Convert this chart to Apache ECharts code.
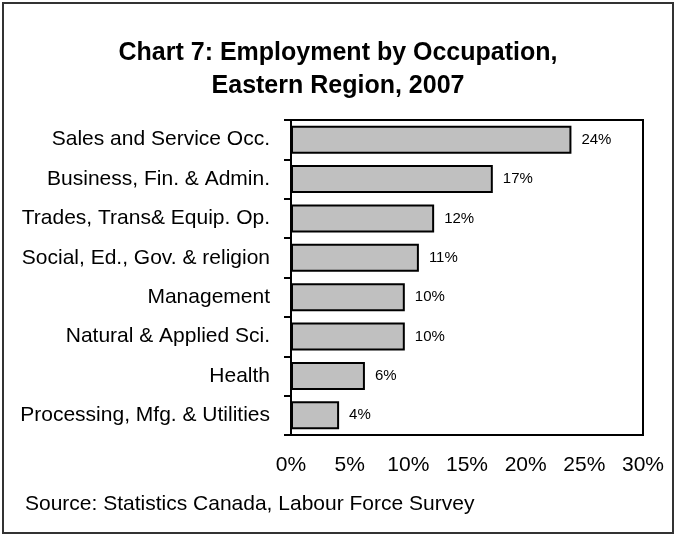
<!DOCTYPE html>
<html>
<head>
<meta charset="utf-8">
<script src="https://cdn.jsdelivr.net/npm/echarts@6/dist/echarts.min.js"></script>
<style>
    html, body { margin: 0; padding: 0; background: #fff; }
    #char1 { width: 676px; height: 535px; }
</style>
</head>
<body>
<div id="char1"></div>
<script>
// occupation groups, top to bottom
var categories = ['Sales and Service Occ.', 'Business, Fin. & Admin.', 'Trades, Trans& Equip. Op.',
    'Social, Ed., Gov. & religion', 'Management', 'Natural & Applied Sci.', 'Health',
    'Processing, Mfg. & Utilities'];
// share of employment (%)
var shares = [23.9, 17.2, 12.2, 10.9, 9.7, 9.7, 6.3, 4.1];
var xTicks = [0, 5, 10, 15, 20, 25, 30];

var font = 'Liberation Sans, Arial, sans-serif';

function char1() {

    var myChart = echarts.init(document.getElementById('char1'));

    var option = {
        animation: false,
        backgroundColor: '#fff',
        title: {
            text: 'Chart 7: Employment by Occupation,\nEastern Region, 2007',
            left: 'center',
            top: 32,
            textStyle: {
                fontFamily: font,
                fontSize: 25,
                fontWeight: 'bold',
                color: '#000',
                lineHeight: 33,
                align: 'center'
            }
        },
        grid: {
            show: true,
            left: 291,
            right: 33,
            top: 120,
            bottom: 100,
            borderColor: '#000',
            borderWidth: 2,
            containLabel: false
        },
        xAxis: {
            type: 'value',
            min: xTicks[0],
            max: xTicks[xTicks.length - 1],
            interval: 5,
            axisLine: {show: true, lineStyle: {color: '#000', width: 2}},
            axisTick: {show: false},
            splitLine: {show: false},
            axisLabel: {
                margin: 20,
                color: '#000',
                fontFamily: font,
                fontSize: 21,
                formatter: '{value}%'
            }
        },
        yAxis: {
            type: 'category',
            inverse: true,
            data: categories,
            axisLine: {show: true, lineStyle: {color: '#000', width: 2}},
            axisTick: {show: true, length: 7, lineStyle: {color: '#000', width: 2}},
            axisLabel: {
                margin: 21,
                color: '#000',
                fontFamily: font,
                fontSize: 21
            }
        },
        series: [
            {
                type: 'bar',
                data: shares,
                barWidth: 28,
                itemStyle: {
                    color: '#c0c0c0',
                    borderColor: '#000',
                    borderWidth: 2
                },
                label: {
                    show: true,
                    position: 'right',
                    distance: 10,
                    color: '#000',
                    fontFamily: font,
                    fontSize: 15,
                    formatter: function (p) {
                        return Math.round(p.value) + '%';
                    }
                }
            }
        ],
        graphic: [
            {
                type: 'rect',
                shape: {x: 3, y: 3, width: 670, height: 530},
                style: {fill: 'none', stroke: '#333', lineWidth: 2},
                silent: true
            },
            {
                type: 'text',
                left: 25,
                top: 494,
                style: {
                    text: 'Source: Statistics Canada, Labour Force Survey',
                    fill: '#000',
                    font: '21px ' + font
                }
            }
        ]
    };

    myChart.setOption(option);
    window.addEventListener('resize', function () {
        myChart.resize();
    });
}

char1();
</script>
</body>
</html>
